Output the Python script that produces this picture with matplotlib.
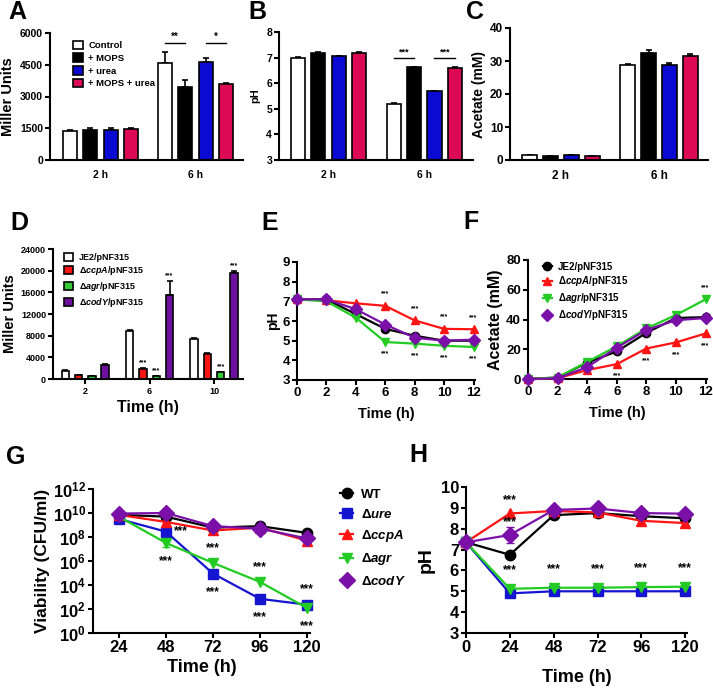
import numpy as np
import matplotlib
matplotlib.use('Agg')
import matplotlib.pyplot as plt
from matplotlib.ticker import FixedLocator, FuncFormatter

plt.rcParams['font.family'] = ['Liberation Sans', 'DejaVu Sans']
plt.rcParams['font.weight'] = 'bold'
plt.rcParams['axes.labelweight'] = 'bold'
plt.rcParams['mathtext.fontset'] = 'custom'
plt.rcParams['mathtext.rm'] = 'Liberation Sans:bold'
plt.rcParams['mathtext.it'] = 'Liberation Sans:italic:bold'
plt.rcParams['mathtext.bf'] = 'Liberation Sans:bold'

# ---- panels A-C ----
abc_groups = ['2 h', '6 h']
abc_labels = ['Control', '+ MOPS', '+ urea', '+ MOPS + urea']
abc_colors = ['white', 'black', '#0a0ad2', '#dc0a55']
miller_a = [[1370, 4600], [1440, 3450], [1440, 4650], [1460, 3600]]
miller_a_err = [[60, 520], [70, 310], [90, 160], [50, 30]]
ph_b = [[7.0, 5.18], [7.18, 6.62], [7.06, 5.68], [7.18, 6.6]]
ph_b_err = [[0.02, 0.06], [0.02, 0.03], [0.02, 0.03], [0.02, 0.03]]
acetate_c = [[1.4, 28.8], [1.2, 32.5], [1.4, 28.7], [1.2, 31.4]]
acetate_c_err = [[0.1, 0.2], [0.1, 0.7], [0.1, 0.6], [0.1, 0.8]]

# ---- panel D ----
d_groups = ['2', '6', '10']
d_labels = ['JE2/pNF315', r'$\mathit{\Delta ccpA}$/pNF315',
            r'$\mathit{\Delta agr}$/pNF315', r'$\mathit{\Delta codY}$/pNF315']
d_colors = ['white', '#ff1414', '#33cc33', '#7010a0']
miller_d = [[1500, 8800, 7400], [750, 1850, 4650], [550, 550, 1250], [2600, 15600, 19500]]
miller_d_err = [[150, 200, 150], [60, 150, 60], [50, 50, 100], [250, 2500, 500]]
d_stars = [(1, 1), (1, 2), (1, 3), (2, 2), (2, 3)]  # (group, series)

# ---- panels E, F ----
ef_time = [0, 2, 4, 6, 8, 10, 12]
ef_labels = d_labels
ef_colors = ['black', '#ff1414', '#22cc22', '#7a10a8']
ef_markers = ['o', '^', 'v', 'D']
ph_e = [[7.1, 7.1, 6.35, 5.6, 5.25, 5.0, 5.0],
        [7.1, 7.05, 6.9, 6.77, 6.03, 5.6, 5.58],
        [7.1, 7.0, 6.17, 4.93, 4.85, 4.74, 4.68],
        [7.1, 7.1, 6.6, 5.82, 5.15, 5.0, 5.05]]
acetate_f = [[0, 1, 11, 18.5, 31, 41, 41.6],
             [0, 0.5, 6, 10, 20.5, 24.6, 30.6],
             [0, 1, 11.5, 22, 34, 43, 53.5],
             [0, 0.5, 8, 21, 33, 39.5, 41]]

# ---- panels G, H ----
gh_labels = ['WT', r'$\mathit{\Delta ure}$', r'$\mathit{\Delta ccpA}$',
             r'$\mathit{\Delta agr}$', r'$\mathit{\Delta codY}$']
gh_colors = ['black', '#1515d0', '#ff1414', '#22cc22', '#7a10a8']
gh_markers = ['o', 's', '^', 'v', 'D']
g_time = [24, 48, 72, 96, 120]
cfu_g = [[7e9, 5e9, 6e8, 8e8, 2.2e8],
         [3.2e9, 2.8e8, 9e4, 7e2, 2.3e2],
         [7e9, 1.8e9, 3.5e8, 6e8, 5e7],
         [5e9, 3.2e7, 7e5, 1.8e4, 1.2e2],
         [9e9, 1e10, 8e8, 5e8, 7.5e7]]
h_time = [0, 24, 48, 72, 96, 120]
ph_h = [[7.35, 6.75, 8.65, 8.75, 8.6, 8.5],
        [7.35, 4.9, 5.0, 5.0, 5.0, 5.0],
        [7.35, 8.73, 8.85, 8.78, 8.38, 8.27],
        [7.35, 5.12, 5.17, 5.17, 5.2, 5.22],
        [7.35, 7.7, 8.9, 8.97, 8.75, 8.72]]
ph_h_err = [0, 0.4, 0, 0, 0, 0]


def box(l, r, t, b):
    return [l / 713, 1 - b / 691, (r - l) / 713, (b - t) / 691]


def style(ax, tick_size):
    for s in ['top', 'right']:
        ax.spines[s].set_visible(False)
    for s in ['left', 'bottom']:
        ax.spines[s].set_linewidth(1.5)
    ax.tick_params(width=1.5, length=3.5, labelsize=tick_size, pad=1.5)


def bars(ax, values, errors, colors, width, step, labels=None):
    n = len(values)
    for i in range(n):
        x = np.arange(len(values[i])) + (i - (n - 1) / 2) * step
        ax.bar(x, values[i], width, color=colors[i], edgecolor='black',
               linewidth=1.2, zorder=2, label=labels[i] if labels else None)
        ax.errorbar(x, values[i], yerr=[np.zeros(len(x)), errors[i]], fmt='none',
                    ecolor='black', elinewidth=1.2, capsize=2.5, capthick=1.2, zorder=1)


fig = plt.figure(figsize=(7.13, 6.91), dpi=100)

# A
ax = fig.add_axes(box(50, 243, 33, 160))
bars(ax, miller_a, miller_a_err, abc_colors, 0.147, 0.214, abc_labels)
ax.set_xlim(-0.53, 1.5)
ax.set_ylim(0, 6000)
ax.set_yticks([0, 1500, 3000, 4500, 6000])
ax.set_xticks([0, 1])
ax.set_xticklabels(abc_groups, fontsize=8)
ax.set_ylabel('Miller Units', fontsize=10.5, labelpad=4)
style(ax, 7.5)
ax.tick_params(axis='x', length=0, pad=7)
for x0, x1, txt in [(1 - 0.321, 1 - 0.107, '**'), (1 + 0.107, 1 + 0.321, '*')]:
    ax.plot([x0, x1], [5530, 5530], color='black', lw=1)
    ax.text((x0 + x1) / 2, 5560, txt, ha='center', va='bottom', fontsize=7)
ax.legend(loc='upper left', bbox_to_anchor=(0.1, 0.97), frameon=False, fontsize=6.8,
          handlelength=1.0, handleheight=1.0, labelspacing=0.35, handletextpad=0.6,
          borderaxespad=0)

# B
ax = fig.add_axes(box(279, 473, 32, 160))
bars(ax, ph_b, ph_b_err, abc_colors, 0.147, 0.214)
ax.set_xlim(-0.52, 1.51)
ax.set_ylim(3, 8)
ax.set_xticks([0, 1])
ax.set_xticklabels(abc_groups, fontsize=8)
ax.set_ylabel('pH', fontsize=8, labelpad=4)
style(ax, 7.5)
ax.tick_params(axis='x', length=0, pad=7)
for x0, x1 in [(1 - 0.321, 1 - 0.107), (1 + 0.107, 1 + 0.321)]:
    ax.plot([x0, x1], [7.0, 7.0], color='black', lw=1)
    ax.text((x0 + x1) / 2, 7.03, '***', ha='center', va='bottom', fontsize=6.5)

# C
ax = fig.add_axes(box(510, 708, 28, 160))
bars(ax, acetate_c, acetate_c_err, abc_colors, 0.147, 0.214)
ax.set_xlim(-0.52, 1.5)
ax.set_ylim(0, 40)
ax.set_yticks([0, 10, 20, 30, 40])
ax.set_xticks([0, 1])
ax.set_xticklabels(abc_groups, fontsize=8)
ax.set_ylabel('Acetate (mM)', fontsize=10, labelpad=3)
style(ax, 8.5)
ax.tick_params(axis='x', length=0, pad=7)

# D
ax = fig.add_axes(box(53, 243, 249, 379))
bars(ax, miller_d, miller_d_err, d_colors, 0.116, 0.206, d_labels)
ax.set_xlim(-0.5, 2.45)
ax.set_ylim(0, 24000)
ax.set_yticks(range(0, 24001, 4000))
ax.set_xticks([0, 1, 2])
ax.set_xticklabels(d_groups, fontsize=8.5)
ax.set_xlabel('Time (h)', fontsize=11.5, labelpad=3)
ax.set_ylabel('Miller Units', fontsize=10.5, labelpad=3)
style(ax, 6.5)
ax.tick_params(axis='x', pad=2)
for g, s in d_stars:
    xs = g + (s - 1.5) * 0.206
    ax.text(xs, miller_d[s][g] + miller_d_err[s][g] + 300, '***', ha='center',
            va='bottom', fontsize=5)
ax.legend(loc='upper left', bbox_to_anchor=(0.04, 1.0), frameon=False, fontsize=6.5,
          handlelength=1.0, handleheight=1.0, labelspacing=0.3, handletextpad=0.6,
          borderaxespad=0)

# E
ax = fig.add_axes(box(297, 475, 262, 380))
for i in range(4):
    ax.plot(ef_time, ph_e[i], color=ef_colors[i], marker=ef_markers[i], lw=1.6,
            ms=6.5 if ef_markers[i] == 'D' else 6, clip_on=False, zorder=3)
for j in range(3, 7):
    ax.annotate('***', (ef_time[j], ph_e[1][j]), xytext=(0, 6), textcoords='offset points',
                ha='center', va='bottom', fontsize=5)
    ax.annotate('***', (ef_time[j], ph_e[2][j]), xytext=(0, -6), textcoords='offset points',
                ha='center', va='top', fontsize=5)
ax.set_xlim(0, 12.1)
ax.set_ylim(3, 9)
ax.set_yticks(range(3, 10))
ax.set_xticks(ef_time)
ax.set_xlabel('Time (h)', fontsize=10.5, labelpad=6)
ax.set_ylabel('pH', fontsize=10, labelpad=2)
style(ax, 9.5)

# F
ax = fig.add_axes(box(528, 707, 260, 379))
for i in range(4):
    ax.plot(ef_time, acetate_f[i], color=ef_colors[i], marker=ef_markers[i], lw=1.6,
            ms=6.5 if ef_markers[i] == 'D' else 6, clip_on=False, zorder=3,
            label=ef_labels[i])
for j in range(3, 7):
    ax.annotate('***', (ef_time[j], acetate_f[1][j]), xytext=(0, -6),
                textcoords='offset points', ha='center', va='top', fontsize=5)
ax.annotate('***', (12, acetate_f[2][6]), xytext=(0, 6), textcoords='offset points',
            ha='center', va='bottom', fontsize=5)
ax.set_xlim(0, 12.1)
ax.set_ylim(0, 80)
ax.set_yticks([0, 20, 40, 60, 80])
ax.set_xticks(ef_time)
ax.set_xlabel('Time (h)', fontsize=10.5, labelpad=6)
ax.set_ylabel('Acetate (mM)', fontsize=11.5, labelpad=2)
style(ax, 9.5)
ax.legend(loc='upper left', bbox_to_anchor=(0.06, 1.02), frameon=False, fontsize=7,
          handlelength=1.0, labelspacing=0.3, handletextpad=0.6, borderaxespad=0)

# G
ax = fig.add_axes(box(93, 310, 489, 633))
for i in range(5):
    ax.plot(g_time, cfu_g[i], color=gh_colors[i], marker=gh_markers[i], lw=1.6,
            ms=7.5 if gh_markers[i] != 'D' else 8, clip_on=False, zorder=3,
            label=gh_labels[i])
ax.errorbar([48], [cfu_g[3][1]], yerr=[[1.6e7], [2.5e7]], fmt='none', ecolor=gh_colors[3],
            elinewidth=1.4, capsize=3, zorder=2)
ax.set_yscale('log')
ax.set_ylim(1, 1e12)
ax.yaxis.set_major_locator(FixedLocator([10.0 ** k for k in range(0, 13, 2)]))
ax.yaxis.set_minor_locator(FixedLocator([]))
ax.yaxis.set_major_formatter(FuncFormatter(lambda v, p: r'$\mathbf{10^{%d}}$' % round(np.log10(v))))
ax.set_xlim(10.8, 121.5)
ax.set_xticks(g_time)
ax.set_xlabel('Time (h)', fontsize=13, labelpad=3)
ax.set_ylabel('Viability (CFU/ml)', fontsize=12.5, labelpad=2)
style(ax, 12)
star_g = [(48, 1, 6, 0, 'left', 'center'), (48, 3, 0, -9, 'center', 'top'),
          (72, 3, 0, 6, 'center', 'bottom'), (72, 1, 0, -9, 'center', 'top'),
          (96, 3, 0, 6, 'center', 'bottom'), (96, 1, 0, -9, 'center', 'top'),
          (120, 1, 0, 7, 'center', 'bottom'), (120, 3, 0, -9, 'center', 'top')]
for t, s, dx, dy, ha, va in star_g:
    ax.annotate('***', (t, cfu_g[s][g_time.index(t)]), xytext=(dx, dy),
                textcoords='offset points', ha=ha, va=va, fontsize=8.5)
fig.legend(*ax.get_legend_handles_labels(), loc='upper left',
           bbox_to_anchor=(335 / 713, 1 - 483 / 691), frameon=False, fontsize=9.5,
           handlelength=1.0, labelspacing=0.55, handletextpad=0.6, borderaxespad=0)

# H
ax = fig.add_axes(box(466, 687, 487, 633))
for i in range(5):
    ax.plot(h_time, ph_h[i], color=gh_colors[i], marker=gh_markers[i], lw=1.6,
            ms=7.5 if gh_markers[i] != 'D' else 8, clip_on=False, zorder=3)
ax.errorbar(h_time, ph_h[4], yerr=ph_h_err, fmt='none', ecolor=gh_colors[4],
            elinewidth=1.4, capsize=3, zorder=2)
ax.annotate('***', (24, ph_h[2][1]), xytext=(0, 5), textcoords='offset points',
            ha='center', va='bottom', fontsize=8.5)
ax.annotate('***', (24, ph_h[4][1] + ph_h_err[1]), xytext=(0, -1), textcoords='offset points',
            ha='center', va='bottom', fontsize=8.5)
for j in range(1, 6):
    ax.annotate('***', (h_time[j], ph_h[3][j]), xytext=(0, 9), textcoords='offset points',
                ha='center', va='bottom', fontsize=8.5)
ax.set_xlim(0, 121)
ax.set_ylim(3, 10)
ax.set_yticks(range(3, 11))
ax.set_xticks(h_time)
ax.set_xlabel('Time (h)', fontsize=13, labelpad=10)
ax.set_ylabel('pH', fontsize=14, labelpad=4)
style(ax, 12)

for txt, x, y in [('A', 17, 12), ('B', 257, 12), ('C', 475, 12), ('D', 19, 223),
                  ('E', 270, 223), ('F', 471, 222), ('G', 16, 457), ('H', 418, 455)]:
    fig.text(x / 713, 1 - y / 691, txt, fontsize=18, fontweight='bold', ha='center', va='center')

fig.savefig('out.png', dpi=100)
